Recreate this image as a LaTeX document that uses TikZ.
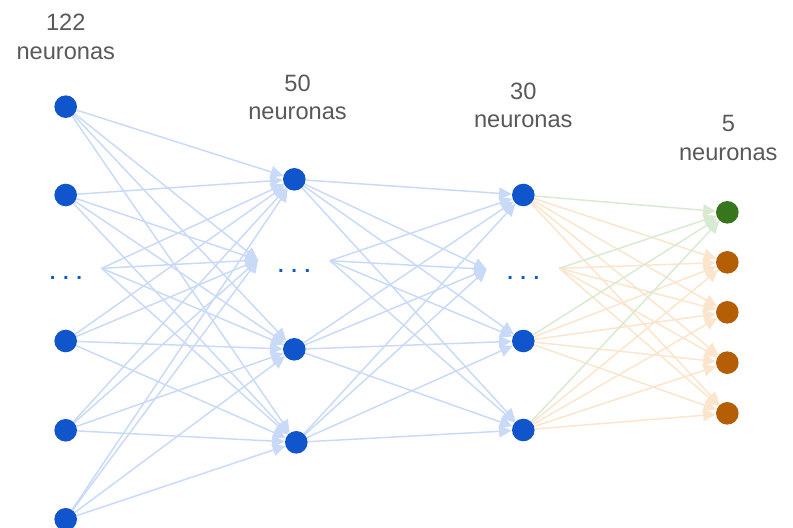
\documentclass[tikz,border=0pt]{standalone}
\usepackage{fontspec}
\setmainfont{Liberation Sans}
\usepackage{tikz}
\usetikzlibrary{arrows.meta}

\begin{document}
\begin{tikzpicture}[auto]
        \tikzset{>={Triangle[length=9pt,width=8.5pt]}}
        \definecolor{gnodeblue}{HTML}{1155CC}
        \definecolor{gnodegreen}{HTML}{38761D}
        \definecolor{gnodeorange}{HTML}{B45F06}
        \definecolor{gedgeblue}{HTML}{C9DAF8}
        \definecolor{gedgeorange}{HTML}{FCE5CD}
        \definecolor{gedgegreen}{HTML}{D9EAD3}
        \definecolor{gtextcolor}{HTML}{595959}
        \tikzstyle{neuron}=[circle,fill=gnodeblue,draw=none,minimum size=0.565cm,inner sep=0pt]
        \tikzstyle{layerlabel}=[text=gtextcolor,align=center,inner sep=0pt,font=\fontsize{16.8pt}{20.3pt}\selectfont]
        \tikzstyle{dotrow}=[text=gnodeblue,inner sep=0pt,font=\fontsize{14.5pt}{18pt}\selectfont\bfseries]
        \tikzstyle{synapse}=[->,line width=1.05pt]

        \useasboundingbox (0cm,0cm) rectangle (19.825cm,-13.2cm);

        % layer labels
        \node [layerlabel] (t1) at (1.645cm,-0.917cm) {122\\neuronas};
        \node [layerlabel] (t2) at (7.438cm,-2.430cm) {50\\neuronas};
        \node [layerlabel] (t3) at (13.083cm,-2.638cm) {30\\neuronas};
        \node [layerlabel] (t4) at (18.208cm,-3.450cm) {5\\neuronas};

        % input layer
        \node [neuron] (a1) at (1.642cm,-2.667cm) {};
        \node [neuron] (a2) at (1.642cm,-4.875cm) {};
        \node [dotrow] (a9) at (1.650cm,-6.958cm) {. . .};
        \node [neuron] (a3) at (1.642cm,-8.525cm) {};
        \node [neuron] (a4) at (1.642cm,-10.757cm) {};
        \node [neuron] (a5) at (1.642cm,-12.982cm) {};
        \coordinate (a0) at (2.542cm,-6.708cm);

        % hidden layer 1
        \node [neuron] (b1) at (7.358cm,-4.483cm) {};
        \node [dotrow] (b9) at (7.355cm,-6.767cm) {. . .};
        \node [neuron] (b2) at (7.358cm,-8.733cm) {};
        \node [neuron] (b3) at (7.408cm,-11.058cm) {};
        \coordinate (bi) at (6.450cm,-6.500cm);
        \coordinate (bo) at (8.250cm,-6.517cm);

        % hidden layer 2
        \node [neuron] (c1) at (13.083cm,-4.875cm) {};
        \node [dotrow] (c9) at (13.083cm,-6.958cm) {. . .};
        \node [neuron] (c2) at (13.083cm,-8.525cm) {};
        \node [neuron] (c3) at (13.083cm,-10.750cm) {};
        \coordinate (ci) at (12.167cm,-6.733cm);
        \coordinate (co) at (13.983cm,-6.708cm);

        % output layer
        \node [neuron, fill=gnodegreen] (d1) at (18.183cm,-5.308cm) {};
        \node [neuron, fill=gnodeorange] (d2) at (18.183cm,-6.558cm) {};
        \node [neuron, fill=gnodeorange] (d3) at (18.183cm,-7.808cm) {};
        \node [neuron, fill=gnodeorange] (d4) at (18.183cm,-9.067cm) {};
        \node [neuron, fill=gnodeorange] (d5) at (18.183cm,-10.333cm) {};

        \foreach \s in {a1,a2,a0,a3,a4,a5}
            \foreach \t in {b1,bi,b2,b3}
                \draw [synapse, draw=gedgeblue, fill=gedgeblue] (\s) to (\t);
        \foreach \s in {b1,bo,b2,b3}
            \foreach \t in {c1,ci,c2,c3}
                \draw [synapse, draw=gedgeblue, fill=gedgeblue] (\s) to (\t);
        \foreach \s in {c1,co,c2,c3}
            \foreach \t in {d2,d3,d4,d5}
                \draw [synapse, draw=gedgeorange, fill=gedgeorange] (\s) to (\t);
        \foreach \s in {c1,co,c2,c3}
            \draw [synapse, draw=gedgegreen, fill=gedgegreen] (\s) to (d1);
    \end{tikzpicture}
\end{document}
